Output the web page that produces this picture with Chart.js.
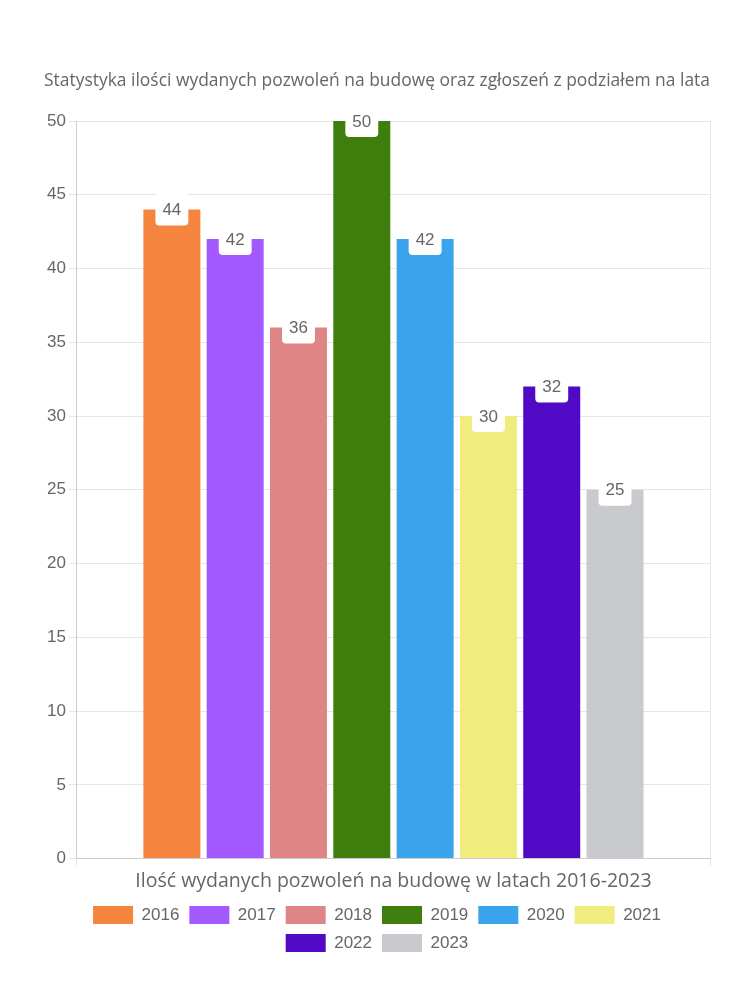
<!DOCTYPE html>
<html>
<head>
<meta charset="utf-8">
<script src="https://cdn.jsdelivr.net/npm/chart.js@4"></script>
<style>
  html, body { margin: 0; padding: 0; background: #fff; }
  #wrap { width: 750px; height: 1000px; }
</style>
</head>
<body>
<div id="wrap"><canvas id="permitChart"></canvas></div>
<script>
// Pozwolenia na budowę 2016-2023
const categories = ['Ilość wydanych pozwoleń na budowę w latach 2016-2023'];
const years = ['2016', '2017', '2018', '2019', '2020', '2021', '2022', '2023'];
const permits = [44, 42, 36, 50, 42, 30, 32, 25];
const colors = ['#F5843F', '#A259FF', '#E08585', '#3F7D0C', '#39A3EB', '#F0EC7E', '#5009C4', '#C9CACE'];
const yTicks = [0, 5, 10, 15, 20, 25, 30, 35, 40, 45, 50];

const roundFont = "'Open Sans', 'Noto Sans', sans-serif";
const plainFont = "'Liberation Sans', Arial, sans-serif";

// white rounded boxes with the value, centred on top of each bar
const valueLabels = {
    id: 'valueLabels',
    afterDatasetsDraw(chart) {
        const ctx = chart.ctx;
        ctx.save();
        ctx.font = '17px ' + plainFont;
        ctx.textAlign = 'center';
        ctx.textBaseline = 'middle';
        chart.data.datasets.forEach((ds, i) => {
            const bar = chart.getDatasetMeta(i).data[0];
            if (!bar) return;
            const txt = String(ds.data[0]);
            const w = ctx.measureText(txt).width + 14;
            const h = 32;
            ctx.fillStyle = '#fff';
            ctx.beginPath();
            ctx.roundRect(bar.x - w / 2, bar.y - h / 2, w, h, 4);
            ctx.fill();
            ctx.fillStyle = '#666';
            ctx.fillText(txt, bar.x, bar.y + 1);
        });
        ctx.restore();
    }
};

new Chart(document.getElementById('permitChart'), {
    type: 'bar',
    data: {
        labels: categories,
        datasets: years.map((y, i) => ({
            label: y,
            data: [permits[i]],
            backgroundColor: colors[i],
            borderWidth: 0
        }))
    },
    options: {
        responsive: true,
        maintainAspectRatio: false,
        animation: false,
        layout: { padding: { top: 61, left: 44, right: 40, bottom: 38 } },
        plugins: {
            title: {
                display: true,
                text: 'Statystyka ilości wydanych pozwoleń na budowę oraz zgłoszeń z podziałem na lata',
                color: '#666',
                font: { family: roundFont, size: 17.5, weight: 'normal' },
                padding: { top: 10, bottom: 29 }
            },
            legend: {
                position: 'bottom',
                labels: {
                    color: '#666',
                    font: { family: plainFont, size: 17 },
                    boxWidth: 40,
                    boxHeight: 18,
                    padding: 10
                }
            },
            tooltip: { enabled: false }
        },
        scales: {
            x: {
                grid: { color: '#e6e6e6', tickLength: 8 },
                border: { color: '#ccc' },
                ticks: { color: '#666', font: { family: roundFont, size: 19.5 } }
            },
            y: {
                min: 0,
                max: 50,
                afterBuildTicks(axis) { axis.ticks = yTicks.map(v => ({ value: v })); },
                grid: { color: '#e6e6e6', tickLength: 8 },
                border: { color: '#ccc' },
                ticks: { color: '#666', font: { family: plainFont, size: 17 } }
            }
        }
    },
    plugins: [valueLabels]
});
</script>
</body>
</html>
